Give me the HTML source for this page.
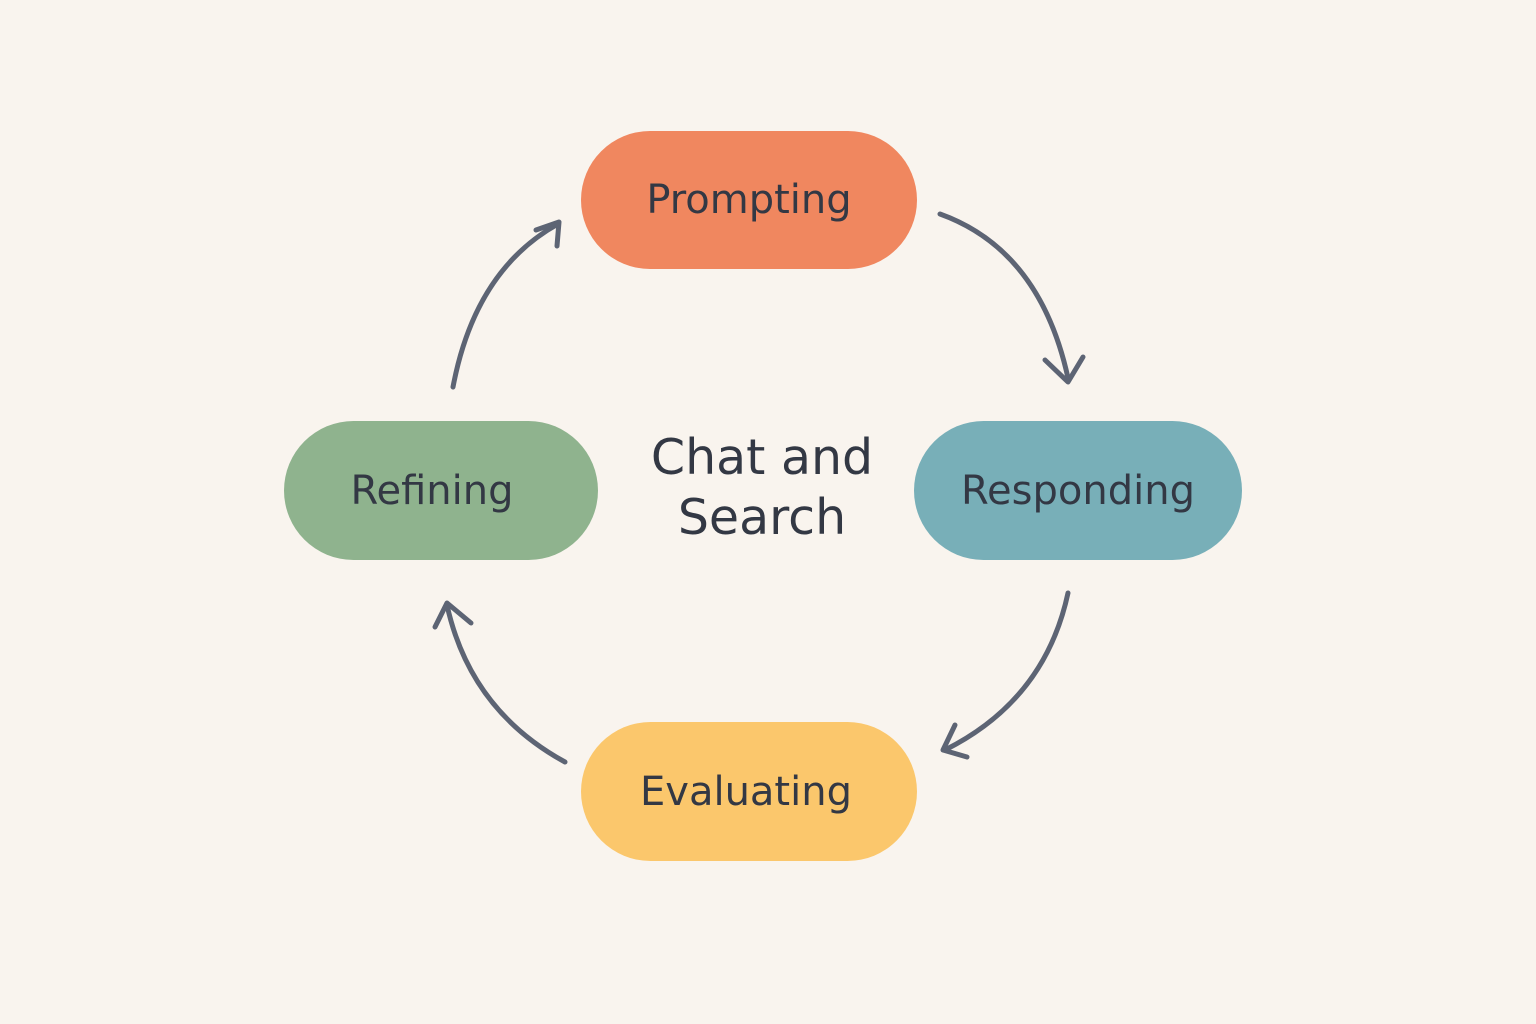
<!DOCTYPE html>
<html><head><style>
html,body{margin:0;padding:0;background:#F9F4EE;}
body{width:1536px;height:1024px;position:relative;overflow:hidden;font-family:"DejaVu Sans","Liberation Sans",sans-serif;}
.pill{position:absolute;border-radius:70px;display:flex;align-items:center;justify-content:center;color:#333844;font-size:40px;}
.c{position:absolute;left:612px;top:428px;width:300px;text-align:center;color:#333844;font-size:49px;line-height:60px;}
</style></head><body>
<div class="pill" style="left:581px;top:131px;width:336px;height:138px;background:#F0875F;">Prompting</div>
<div class="pill" style="left:284px;top:421px;width:296px;padding-right:18px;height:139px;background:#8FB38E;">Refining</div>
<div class="pill" style="left:914px;top:421px;width:328px;height:139px;background:#78AFB8;">Responding</div>
<div class="pill" style="left:581px;top:722px;width:330px;padding-right:6px;height:139px;background:#FBC76C;">Evaluating</div>
<div class="c">Chat and<br>Search</div>
<svg width="1536" height="1024" style="position:absolute;left:0;top:0" fill="none" stroke="#5D6474" stroke-width="5" stroke-linecap="round" stroke-linejoin="round">
<path d="M940 214 Q1040 250 1068 378"/>
<path d="M1045 360 L1068 382 L1083 357"/>
<path d="M1068 593 Q1045 700 945 750"/>
<path d="M955 725 L943 750 L967 757"/>
<path d="M565 762 Q470 710 447 605"/>
<path d="M435 627 L447 603 L471 623"/>
<path d="M453 387 Q475 270 558 224"/>
<path d="M536 230 L559 222 L557 246"/>
</svg>
</body></html>
